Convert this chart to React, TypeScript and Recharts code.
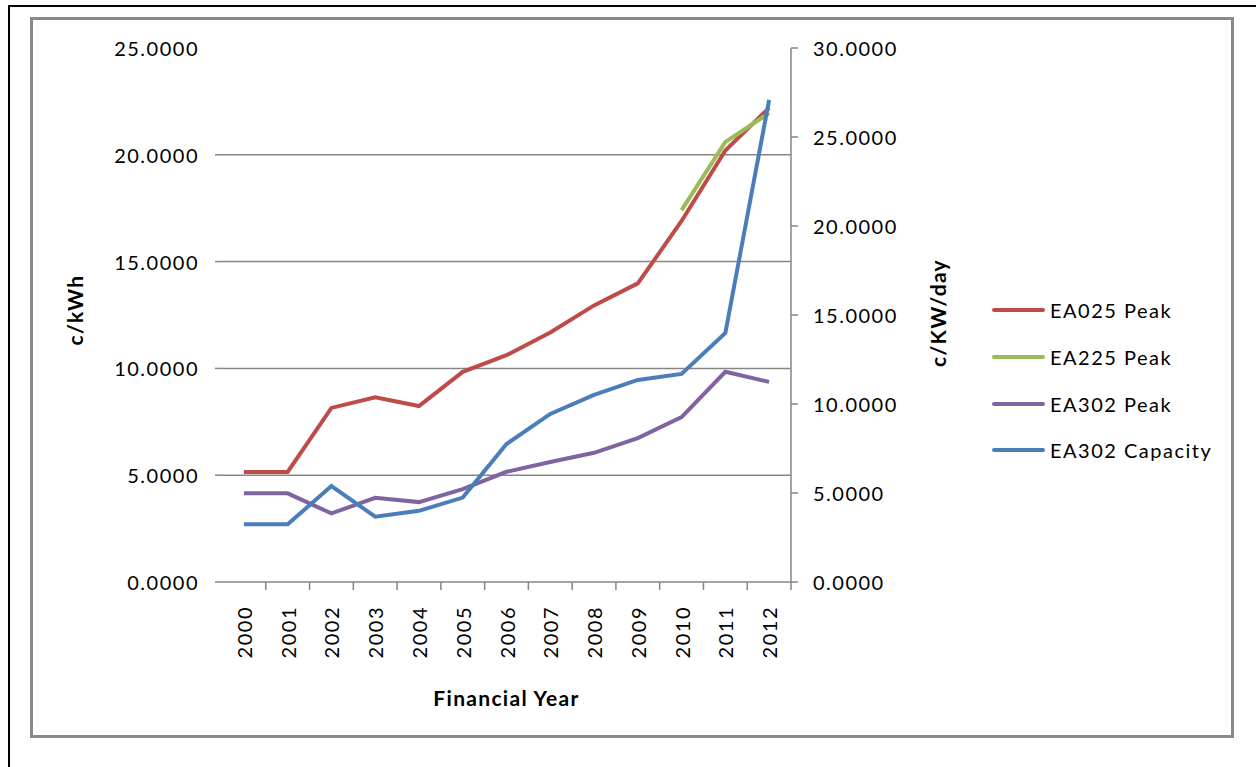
import { LineChart, Line, XAxis, YAxis, CartesianGrid, Legend } from "recharts";

const years = ["2000", "2001", "2002", "2003", "2004", "2005", "2006", "2007", "2008", "2009", "2010", "2011", "2012"];
const ea025Peak = [5.15, 5.15, 8.15, 8.65, 8.24, 9.84, 10.62, 11.68, 12.95, 13.98, 16.9, 20.2, 22.2];
const ea225Peak = [null, null, null, null, null, null, null, null, null, null, 17.41, 20.6, 21.95];
const ea302Peak = [4.15, 4.15, 3.21, 3.94, 3.74, 4.35, 5.16, 5.62, 6.05, 6.74, 7.72, 9.84, 9.37];
const ea302Capacity = [3.24, 3.24, 5.39, 3.67, 4.0, 4.74, 7.75, 9.44, 10.51, 11.35, 11.69, 13.99, 27.08];
const leftTicks = [0, 5, 10, 15, 20, 25];
const rightTicks = [0, 5, 10, 15, 20, 25, 30];
const seriesNames = ["EA025 Peak", "EA225 Peak", "EA302 Peak", "EA302 Capacity"];

const data = years.map((year, i) => ({
  year,
  ea025: ea025Peak[i],
  ea225: ea225Peak[i],
  ea302: ea302Peak[i],
  cap: ea302Capacity[i],
}));

const W = 1256;
const H = 767;
const plotLeft = 222;
const plotRight = 791;
const plotTop = 48;
const plotBottom = 582;
const leftAxisW = 160;
const rightAxisW = 180;
const xAxisH = 130;
const band = (plotRight - plotLeft) / years.length;

const FONT = "Lato, 'Open Sans', sans-serif";
const GRID = "#868686";

function XTick({ x, y, payload }: any) {
  const axisY = y - 24;
  return (
    <g>
      <line x1={x + band / 2} x2={x + band / 2} y1={axisY} y2={axisY + 8} stroke={GRID} strokeWidth={1.5} />
      <text
        x={x}
        y={y}
        transform={`rotate(-90 ${x} ${y})`}
        textAnchor="end"
        dominantBaseline="central"
        fontFamily={FONT}
        fontSize={20}
        letterSpacing={1.5}
        fill="#000"
      >
        {payload.value}
      </text>
    </g>
  );
}

function LeftTick({ x, y, payload }: any) {
  const axisX = x + 23;
  return (
    <g>
      {payload.value < 25 && <line x1={axisX - 7} x2={axisX} y1={y} y2={y} stroke={GRID} strokeWidth={1.5} />}
      <text x={x} y={y} textAnchor="end" dominantBaseline="central" fontFamily={FONT} fontSize={20} letterSpacing={1.5} fill="#000">
        {payload.value.toFixed(4)}
      </text>
    </g>
  );
}

function RightTick({ x, y, payload }: any) {
  return (
    <text x={x} y={y} textAnchor="start" dominantBaseline="central" fontFamily={FONT} fontSize={20} letterSpacing={1.5} fill="#000">
      {payload.value.toFixed(4)}
    </text>
  );
}

const titleStyle = { fontFamily: FONT, fontSize: 21, fontWeight: 700, letterSpacing: 1.3, fill: "#000" };

const renderLegend = ({ payload }: any) => {
  const items = [...(payload || [])].sort((a: any, b: any) => seriesNames.indexOf(a.value) - seriesNames.indexOf(b.value));
  return (
    <div style={{ fontFamily: FONT, fontSize: 20, letterSpacing: 1.5 }}>
      {items.map((p: any) => (
        <div key={p.value} style={{ display: "flex", alignItems: "center", height: 46.7 }}>
          <span style={{ display: "inline-block", width: 53, height: 4, borderRadius: 2, background: p.color, marginRight: 5 }} />
          <span>{p.value}</span>
        </div>
      ))}
    </div>
  );
};

export default function App() {
  return (
    <div style={{ position: "absolute", left: 0, top: 0, width: W, height: H, background: "#fff", overflow: "hidden" }}>
      <div style={{ position: "absolute", left: 8, top: 5, width: W, height: H, borderTop: "2px solid #000", borderLeft: "2px solid #000" }} />
      <div style={{ position: "absolute", left: 30, top: 17, width: 1204, height: 721, border: "3px solid #898989", boxSizing: "border-box" }} />
      <div style={{ position: "absolute", left: 0, top: 0 }}>
        <LineChart
          width={W}
          height={H}
          data={data}
          margin={{ top: plotTop, left: plotLeft - leftAxisW, right: W - plotRight - rightAxisW, bottom: H - plotBottom - xAxisH }}
        >
          <CartesianGrid yAxisId="left" vertical={false} stroke={GRID} strokeWidth={1.5} horizontalValues={[5, 10, 15, 20]} />
          <XAxis
            dataKey="year"
            scale="band"
            interval={0}
            height={xAxisH}
            tickSize={8}
            tickMargin={16}
            tickLine={false}
            axisLine={{ stroke: GRID, strokeWidth: 1.5 }}
            tick={<XTick />}
            label={({ viewBox }: any) => (
              <text x={viewBox.x + viewBox.width / 2} y={viewBox.y + 115} textAnchor="middle" dominantBaseline="central" {...titleStyle}>
                Financial Year
              </text>
            )}
          />
          <YAxis
            yAxisId="left"
            domain={[0, 25]}
            ticks={leftTicks}
            width={leftAxisW}
            tickSize={7}
            tickMargin={16}
            tickLine={false}
            axisLine={false}
            tick={<LeftTick />}
            label={({ viewBox }: any) => (
              <text
                x={viewBox.x + 12}
                y={viewBox.y + viewBox.height / 2 - 5}
                transform={`rotate(-90 ${viewBox.x + 12} ${viewBox.y + viewBox.height / 2 - 5})`}
                textAnchor="middle"
                dominantBaseline="central"
                {...titleStyle}
              >
                c/kWh
              </text>
            )}
          />
          <YAxis
            yAxisId="right"
            orientation="right"
            domain={[0, 30]}
            ticks={rightTicks}
            width={rightAxisW}
            tickSize={7}
            tickMargin={15}
            tickLine={{ stroke: GRID, strokeWidth: 1.5 }}
            axisLine={{ stroke: GRID, strokeWidth: 1.5 }}
            tick={<RightTick />}
            label={({ viewBox }: any) => (
              <text
                x={viewBox.x + 146}
                y={viewBox.y + viewBox.height / 2 - 2}
                transform={`rotate(-90 ${viewBox.x + 146} ${viewBox.y + viewBox.height / 2 - 2})`}
                textAnchor="middle"
                dominantBaseline="central"
                {...titleStyle}
              >
                c/KW/day
              </text>
            )}
          />
          <Legend
            layout="horizontal"
            verticalAlign="middle"
            align="center"
            content={renderLegend}
            wrapperStyle={{ left: 992, top: 287, width: 240 }}
          />
          <Line yAxisId="left" dataKey="ea025" name="EA025 Peak" stroke="#BE4B48" strokeWidth={4} dot={false} isAnimationActive={false} />
          <Line yAxisId="left" dataKey="ea225" name="EA225 Peak" stroke="#9BBB59" strokeWidth={4} dot={false} isAnimationActive={false} />
          <Line yAxisId="left" dataKey="ea302" name="EA302 Peak" stroke="#8064A2" strokeWidth={4} dot={false} isAnimationActive={false} />
          <Line yAxisId="right" dataKey="cap" name="EA302 Capacity" stroke="#4A7EBB" strokeWidth={4} dot={false} isAnimationActive={false} />
        </LineChart>
      </div>
    </div>
  );
}
